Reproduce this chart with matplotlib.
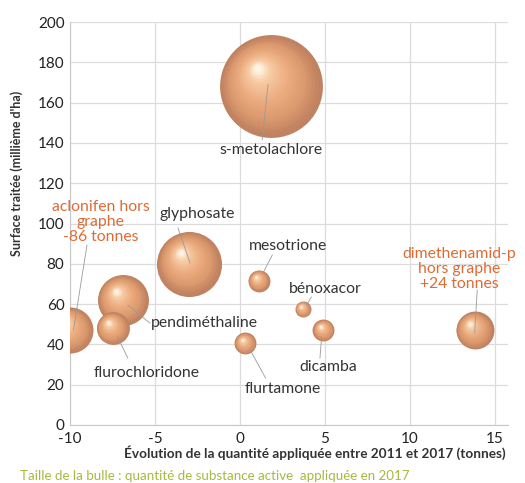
import numpy as np
import matplotlib
matplotlib.use('Agg')
import matplotlib.pyplot as plt
import matplotlib.transforms as mtransforms
from matplotlib.colors import LinearSegmentedColormap

plt.rcParams['font.family'] = ['Lato', 'DejaVu Sans']
plt.rcParams['axes.unicode_minus'] = False

# données
substances = ['s-metolachlore', 'glyphosate', 'aclonifen', 'pendiméthaline',
              'flurochloridone', 'flurtamone', 'mesotrione', 'bénoxacor',
              'dicamba', 'dimethenamid-p']
evolution = [1.8, -3.0, -10.0, -6.9, -7.5, 0.3, 1.1, 3.7, 4.9, 13.8]   # tonnes
surface = [168, 80, 47, 62, 48, 40.5, 71.5, 57.5, 47, 47]              # milliers d'ha
quantite = [265, 106, 53, 65, 27, 12, 12, 6.4, 12, 36]                 # tonnes 2017

xticks = [-10, -5, 0, 5, 10, 15]
yticks = list(range(0, 201, 20))

# étiquettes : texte, position, alignement, trait de rappel
labels = {
    's-metolachlore': ('s-metolachlore', (1.8, 136.5), 'center', [(1.65, 169), (1.3, 141.5)]),
    'glyphosate': ('glyphosate', (-2.5, 104.7), 'center', [(-3.65, 97.8), (-2.94, 80.4)]),
    'aclonifen': ('aclonifen hors\ngraphe\n-86 tonnes', (-8.2, 100.8), 'center', [(-9.0, 89.3), (-9.8, 47)]),
    'pendiméthaline': ('pendiméthaline', (-5.25, 50.6), 'left', [(-6.6, 59.5), (-5.3, 50.6)]),
    'flurochloridone': ('flurochloridone', (-5.5, 26), 'center', [(-7.2, 43.7), (-6.6, 33.2)]),
    'flurtamone': ('flurtamone', (2.5, 18), 'center', [(0.6, 37.2), (1.5, 23.3)]),
    'mesotrione': ('mesotrione', (2.8, 89), 'center', [(1.35, 75.4), (1.9, 84.4)]),
    'bénoxacor': ('bénoxacor', (5.0, 67.5), 'center', [(3.9, 59.5), (4.2, 63.5)]),
    'dicamba': ('dicamba', (5.2, 29), 'center', [(4.8, 43.7), (4.7, 33.2)]),
    'dimethenamid-p': ('dimethenamid-p\nhors graphe\n+24 tonnes', (12.9, 77.4), 'center', [(13.95, 67), (13.8, 45.7)]),
}
orange_labels = ['aclonifen', 'dimethenamid-p']

fig = plt.figure(figsize=(5.25, 4.83), dpi=100)
ax = fig.add_axes([70 / 525, 1 - 425 / 483, 438 / 525, 403 / 483])
ax.set_xlim(-10, 15.76)
ax.set_ylim(0, 200)
ax.set_xticks(xticks)
ax.set_yticks(yticks)
ax.grid(True, color='#dcdcdc', linewidth=0.9)
ax.set_axisbelow(True)
for s in ['top', 'right']:
    ax.spines[s].set_visible(False)
for s in ['left', 'bottom']:
    ax.spines[s].set_color('#c8c8c8')
ax.tick_params(length=0, labelsize=11, colors='#222222', pad=4)
ax.tick_params(axis='x', pad=5)

# bulles "sphériques" : empilement de disques de plus en plus clairs
cmap = LinearSegmentedColormap.from_list(
    'bulle', [(0, '#c08260'), (0.2, '#dc9a6e'), (0.5, '#edae82'),
              (0.8, '#f7cca4'), (1, '#fff3e3')])
n_layers = 30
for x, y, q in zip(evolution, surface, quantite):
    size = 20.7 * q
    r_pt = np.sqrt(size) / 2
    for k in range(n_layers):
        t = k / (n_layers - 1)
        f = 1 - 0.93 * t ** 0.8
        dx = -(1 - f) * 0.28 * r_pt
        dy = (1 - f) * 0.38 * r_pt
        tr = mtransforms.offset_copy(ax.transData, fig=fig, x=dx, y=dy, units='points')
        ax.scatter([x], [y], s=size * f ** 2, color=cmap(t), transform=tr,
                   linewidths=0, zorder=3)

# une ligne de texte par objet, interligne ~10.7 pt
line_h = 10.7
for key, (txt, pos, ha, line) in labels.items():
    color = '#de6b34' if key in orange_labels else '#333333'
    rows = txt.split('\n')
    n = len(rows)
    for i, row in enumerate(rows):
        ax.annotate(row, xy=pos, xytext=(0, ((n - 1) / 2 - i) * line_h),
                    textcoords='offset points', ha=ha, va='center',
                    fontsize=11.3, color=color, zorder=5)
    lx, ly = zip(*line)
    ax.plot(lx, ly, color='#9a9a9a', linewidth=0.6, zorder=4)

fig.text(315 / 525, 1 - 453 / 483,
         'Évolution de la quantité appliquée entre 2011 et 2017 (tonnes)',
         ha='center', va='center', fontsize=9.8, fontweight='bold', color='#333333')
fig.text(17 / 525, 1 - 173 / 483, "Surface traitée (millième d'ha)",
         ha='center', va='center', rotation=90, fontsize=9, fontweight='bold',
         color='#333333')
fig.text(20 / 525, 1 - 476 / 483,
         'Taille de la bulle : quantité de substance active  appliquée en 2017',
         ha='left', va='center', fontsize=9.6, color='#a9b83e')

fig.savefig('out.png', dpi=100)
